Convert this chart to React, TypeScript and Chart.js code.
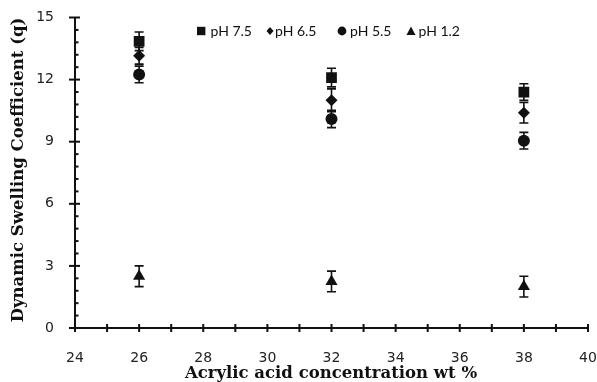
import React, { useEffect, useRef } from "react";
import { Chart, registerables } from "chart.js";

Chart.register(...registerables);

const concentrations = [26, 32, 38];
const seriesLabels = ["pH 7.5", "pH 6.5", "pH 5.5", "pH 1.2"];
const ph75 = [13.85, 12.1, 11.4];
const ph65 = [13.15, 11.0, 10.4];
const ph55 = [12.25, 10.1, 9.05];
const ph12 = [2.5, 2.25, 2.0];
const err75 = [0.45, 0.45, 0.4];
const err65 = [0.4, 0.55, 0.5];
const err55 = [0.4, 0.42, 0.4];
const err12 = [0.5, 0.5, 0.5];
const xTickLabels = [24, 26, 28, 30, 32, 34, 36, 38, 40];
const yTickLabels = [0, 3, 6, 9, 12, 15];

const values = [ph75, ph65, ph55, ph12];
const errors = [err75, err65, err55, err12];
const styles = ["rect", "rectRot", "circle", "triangle"];
const radii = [7.6, 6, 6, 7];

const TITLE_FONT = "bold 16.5px 'DejaVu Serif', serif";
const LEGEND_FONT = "14px Lato, 'Open Sans', sans-serif";

const customPlugin = {
  id: "custom",
  beforeDatasetsDraw(chart: any) {
    const ctx = chart.ctx;
    const xs = chart.scales.x;
    const ys = chart.scales.y;
    ctx.save();
    ctx.strokeStyle = "#111";
    ctx.lineWidth = 1.6;
    values.forEach((arr, si) => {
      arr.forEach((v, i) => {
        const px = xs.getPixelForValue(concentrations[i]);
        const top = ys.getPixelForValue(v + errors[si][i]);
        const bot = ys.getPixelForValue(v - errors[si][i]);
        ctx.beginPath();
        ctx.moveTo(px, top);
        ctx.lineTo(px, bot);
        ctx.moveTo(px - 4.5, top);
        ctx.lineTo(px + 4.5, top);
        ctx.moveTo(px - 4.5, bot);
        ctx.lineTo(px + 4.5, bot);
        ctx.stroke();
      });
    });
    ctx.restore();
  },
  afterDraw(chart: any) {
    const ctx = chart.ctx;
    const xs = chart.scales.x;
    const ys = chart.scales.y;
    const a = chart.chartArea;
    ctx.save();
    ctx.strokeStyle = "#111";
    ctx.fillStyle = "#111";
    ctx.lineWidth = 2;
    ctx.beginPath();
    ctx.moveTo(a.left, a.top);
    ctx.lineTo(a.left, a.bottom);
    ctx.lineTo(a.right, a.bottom);
    ctx.stroke();
    for (let v = xs.min; v <= xs.max + 1e-6; v += 1) {
      const px = xs.getPixelForValue(v);
      ctx.beginPath();
      ctx.moveTo(px, a.bottom - 4);
      ctx.lineTo(px, a.bottom + 4);
      ctx.stroke();
    }
    for (let k = 0; k <= 25; k++) {
      const v = k * 0.6;
      const py = ys.getPixelForValue(v);
      ctx.beginPath();
      if (k % 5 === 0) {
        ctx.moveTo(a.left - 6, py);
        ctx.lineTo(a.left + 5, py);
      } else {
        ctx.moveTo(a.left, py);
        ctx.lineTo(a.left + 3.5, py);
      }
      ctx.stroke();
    }
    ctx.font = TITLE_FONT;
    ctx.textAlign = "center";
    ctx.textBaseline = "alphabetic";
    ctx.fillText("Acrylic acid concentration wt %", 331, 378);
    ctx.save();
    ctx.translate(23, 170);
    ctx.rotate(-Math.PI / 2);
    ctx.fillText("Dynamic Swelling Coefficient (q)", 0, 0);
    ctx.restore();
    const legendMarkerX = [201, 270, 342, 411];
    const legendTextX = [210.5, 275, 350, 418.5];
    const ly = 31;
    ctx.beginPath();
    ctx.rect(197, ly - 4.2, 8.4, 8.4);
    ctx.fill();
    ctx.beginPath();
    ctx.moveTo(legendMarkerX[1], ly - 4);
    ctx.lineTo(legendMarkerX[1] + 3.5, ly);
    ctx.lineTo(legendMarkerX[1], ly + 4);
    ctx.lineTo(legendMarkerX[1] - 3.5, ly);
    ctx.closePath();
    ctx.fill();
    ctx.beginPath();
    ctx.arc(legendMarkerX[2], ly, 4.4, 0, Math.PI * 2);
    ctx.fill();
    ctx.beginPath();
    ctx.moveTo(legendMarkerX[3], ly - 4.5);
    ctx.lineTo(legendMarkerX[3] + 4.5, ly + 4);
    ctx.lineTo(legendMarkerX[3] - 4.5, ly + 4);
    ctx.closePath();
    ctx.fill();
    ctx.font = LEGEND_FONT;
    ctx.textAlign = "left";
    ctx.textBaseline = "alphabetic";
    seriesLabels.forEach((t, i) => ctx.fillText(t, legendTextX[i], 35.5));
    ctx.restore();
  },
};

export default function App() {
  const ref = useRef<HTMLCanvasElement | null>(null);
  useEffect(() => {
    if (!ref.current) return;
    const chart = new Chart(ref.current, {
      type: "scatter",
      data: {
        datasets: values.map((arr, si) => ({
          label: seriesLabels[si],
          data: arr.map((v, i) => ({ x: concentrations[i], y: v })),
          pointStyle: styles[si] as any,
          pointRadius: radii[si],
          backgroundColor: "#111",
          borderColor: "#111",
          borderWidth: 0,
          showLine: false,
        })),
      },
      options: {
        animation: false,
        responsive: false,
        layout: { padding: { left: 0, top: 17.5, right: 9, bottom: 0 } },
        plugins: { legend: { display: false }, tooltip: { enabled: false } },
        scales: {
          x: {
            type: "linear",
            min: 24,
            max: 40,
            grid: { display: false },
            border: { display: false },
            afterFit: (s: any) => { s.height = 54; s.paddingLeft = 0; s.paddingRight = 0; },
            afterBuildTicks: (s: any) => { s.ticks = xTickLabels.map((v) => ({ value: v })); },
            ticks: { color: "#222", font: { family: "'DejaVu Sans', sans-serif", size: 14 }, padding: 14, maxRotation: 0, autoSkip: false },
          },
          y: {
            type: "linear",
            min: 0,
            max: 15,
            grid: { display: false },
            border: { display: false },
            afterFit: (s: any) => { s.width = 75; s.paddingTop = 0; s.paddingBottom = 0; },
            afterBuildTicks: (s: any) => { s.ticks = yTickLabels.map((v) => ({ value: v })); },
            ticks: { color: "#222", font: { family: "'DejaVu Sans', sans-serif", size: 14 }, padding: 13 },
          },
        },
      },
      plugins: [customPlugin],
    });
    return () => chart.destroy();
  }, []);
  return (
    <div style={{ position: "fixed", left: 0, top: 0, width: 597, height: 382, background: "#fff" }}>
      <canvas ref={ref} width={597} height={382} />
    </div>
  );
}
